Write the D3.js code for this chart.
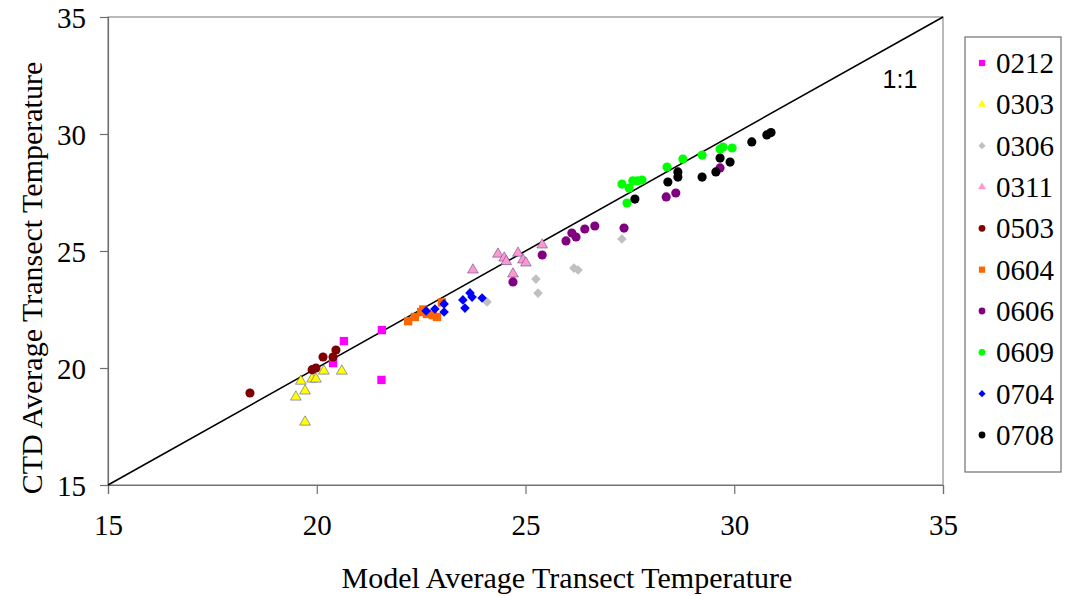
<!DOCTYPE html>
<html>
<head>
<meta charset="utf-8">
<script src="https://cdn.jsdelivr.net/npm/d3@7"></script>
<style>
  body { margin: 0; background: #fff; }
  svg text { font-family: "Liberation Serif", "Times New Roman", serif; fill: #000; }
</style>
</head>
<body>
<svg width="1073" height="596"></svg>
<script>
// series names, in legend order
const seriesNames = ['0212', '0303', '0306', '0311', '0503', '0604', '0606', '0609', '0704', '0708']
const seriesColors = ['#ff00ff', '#ffff00', '#c0c0c0', '#ff99cc', '#800000', '#ff6600', '#800080', '#00ff00', '#0000ff', '#000000']
const seriesShapes = ['square', 'triangle', 'diamond', 'triangle', 'circle', 'square', 'circle', 'circle', 'diamond', 'circle']

// [model temp, CTD temp]
const s0212 = [[20.39, 20.21], [20.65, 21.15], [21.56, 21.62], [21.55, 19.49]]
const s0303 = [[19.62, 19.44], [19.89, 19.53], [19.98, 19.53], [20.17, 19.87], [20.6, 19.87], [19.72, 19.02], [19.5, 18.76], [19.72, 17.69]]
const s0306 = [[24.08, 22.82], [25.25, 23.8], [25.3, 23.2], [26.16, 24.27], [26.26, 24.19], [27.31, 25.51]]
const s0311 = [[23.74, 24.19], [24.34, 24.87], [24.49, 24.7], [24.54, 24.55], [24.82, 24.91], [24.94, 24.62], [25.01, 24.49], [24.7, 24.02], [25.4, 25.26]]
const s0503 = [[18.4, 18.93], [19.89, 19.93], [19.98, 20.0], [20.15, 20.47], [20.39, 20.47], [20.46, 20.77]]
const s0604 = [[22.19, 22.0], [22.35, 22.18], [22.5, 22.39], [22.64, 22.31], [22.55, 22.5], [22.78, 22.26], [22.88, 22.18], [23.0, 22.8]]
const s0606 = [[24.7, 23.68], [25.4, 24.83], [25.97, 25.43], [26.11, 25.77], [26.21, 25.6], [26.42, 25.94], [26.66, 26.07], [27.36, 25.98], [28.37, 27.31], [28.6, 27.48], [29.66, 28.55]]
const s0609 = [[27.31, 27.86], [27.48, 27.69], [27.57, 28.0], [27.68, 28.0], [27.79, 28.03], [27.43, 27.05], [28.39, 28.59], [28.77, 28.93], [29.23, 29.1], [29.66, 29.36], [29.73, 29.44], [29.95, 29.4]]
const s0704 = [[22.62, 22.44], [22.83, 22.52], [23.05, 22.74], [23.05, 22.39], [23.5, 22.91], [23.55, 22.56], [23.67, 23.21], [23.72, 23.03], [23.96, 22.99]]
const s0708 = [[27.62, 27.22], [28.41, 27.95], [28.65, 28.38], [28.65, 28.16], [29.23, 28.16], [29.56, 28.38], [29.66, 28.97], [29.9, 28.8], [30.42, 29.66], [30.78, 29.96], [30.88, 30.06]]
const seriesData = [s0212, s0303, s0306, s0311, s0503, s0604, s0606, s0609, s0704, s0708]

const tickValues = [15, 20, 25, 30, 35]

const svg = d3.select('svg')

// plot box
const plotLeft = 108, plotRight = 943, plotTop = 17, plotBottom = 485

const xScale = d3.scaleLinear().domain([15, 35]).range([plotLeft, plotRight])
const yScale = d3.scaleLinear().domain([15, 35]).range([plotBottom, plotTop])

// border of plot area
svg.append('rect')
  .attr('x', plotLeft).attr('y', plotTop)
  .attr('width', plotRight - plotLeft).attr('height', plotBottom - plotTop)
  .attr('fill', 'none').attr('stroke', '#8c8c8c').attr('stroke-width', 1.2)

const xAxis = d3.axisBottom(xScale).tickValues(tickValues).tickSize(9).tickPadding(20)
const yAxis = d3.axisLeft(yScale).tickValues(tickValues).tickSize(8).tickPadding(14)

const gx = svg.append('g').attr('transform', `translate(0, ${plotBottom})`).call(xAxis)
const gy = svg.append('g').attr('transform', `translate(${plotLeft}, 0)`).call(yAxis)

for (const g of [gx, gy]) {
  g.select('.domain').attr('stroke', '#707070').attr('stroke-width', 1.2)
  g.selectAll('.tick line').attr('stroke', '#707070').attr('stroke-width', 1.2)
  g.selectAll('.tick text')
    .style('font-family', '"Liberation Serif", serif')
    .style('font-size', '29px')
    .attr('fill', '#000')
}
gy.selectAll('.tick text').attr('dy', '0.35em')

// 1:1 line
svg.append('line')
  .attr('x1', xScale(15)).attr('y1', yScale(15))
  .attr('x2', xScale(35)).attr('y2', yScale(35))
  .attr('stroke', '#000').attr('stroke-width', 1.6)

svg.append('text')
  .attr('x', 900).attr('y', 88)
  .attr('text-anchor', 'middle')
  .style('font-family', '"Liberation Sans", Arial, sans-serif')
  .style('font-size', '25px')
  .attr('fill', '#222')
  .text('1:1')

// symbol generator for each shape
function symbolPath(shape, big) {
  const k = big ? 1 : 0.55
  if (shape === 'square') return d3.symbol(d3.symbolSquare, 70 * k)()
  if (shape === 'circle') return d3.symbol(d3.symbolCircle, 66 * k)()
  if (shape === 'triangle') return d3.symbol(d3.symbolTriangle, 50 * k)()
  return d3.symbol(d3.symbolSquare, 46 * k)()
}

const points = svg.append('g')
seriesData.forEach((rows, i) => {
  const shape = seriesShapes[i]
  points.append('g')
    .selectAll('path')
    .data(rows)
    .enter()
    .append('path')
    .attr('d', symbolPath(shape, true))
    .attr('transform', d => `translate(${xScale(d[0])}, ${yScale(d[1])})` + (shape === 'diamond' ? ' rotate(45)' : ''))
    .attr('fill', seriesColors[i])
    .attr('stroke', shape === 'triangle' ? '#3a3a8a' : 'none')
    .attr('stroke-width', 0.5)
})

// legend
const legend = svg.append('g')
legend.append('rect')
  .attr('x', 965).attr('y', 37)
  .attr('width', 96).attr('height', 435)
  .attr('fill', '#fff').attr('stroke', '#707070').attr('stroke-width', 1.2)

const rowY = d3.scalePoint().domain(seriesNames).range([63, 435])

const items = legend.selectAll('g.item')
  .data(seriesNames)
  .enter()
  .append('g')
  .attr('class', 'item')
  .attr('transform', d => `translate(0, ${rowY(d)})`)

items.append('path')
  .attr('d', (d, i) => symbolPath(seriesShapes[i], false))
  .attr('transform', (d, i) => 'translate(982, 0)' + (seriesShapes[i] === 'diamond' ? ' rotate(45)' : ''))
  .attr('fill', (d, i) => seriesColors[i])

items.append('text')
  .attr('x', 996).attr('y', 0).attr('dy', '0.35em')
  .style('font-size', '29px')
  .text(d => d)

// axis titles
svg.append('text')
  .attr('x', 567).attr('y', 588)
  .attr('text-anchor', 'middle')
  .style('font-size', '30px')
  .text('Model Average Transect Temperature')

svg.append('text')
  .attr('transform', 'translate(42, 278) rotate(-90)')
  .attr('text-anchor', 'middle')
  .style('font-size', '30px')
  .text('CTD Average Transect Temperature')
</script>
</body>
</html>
